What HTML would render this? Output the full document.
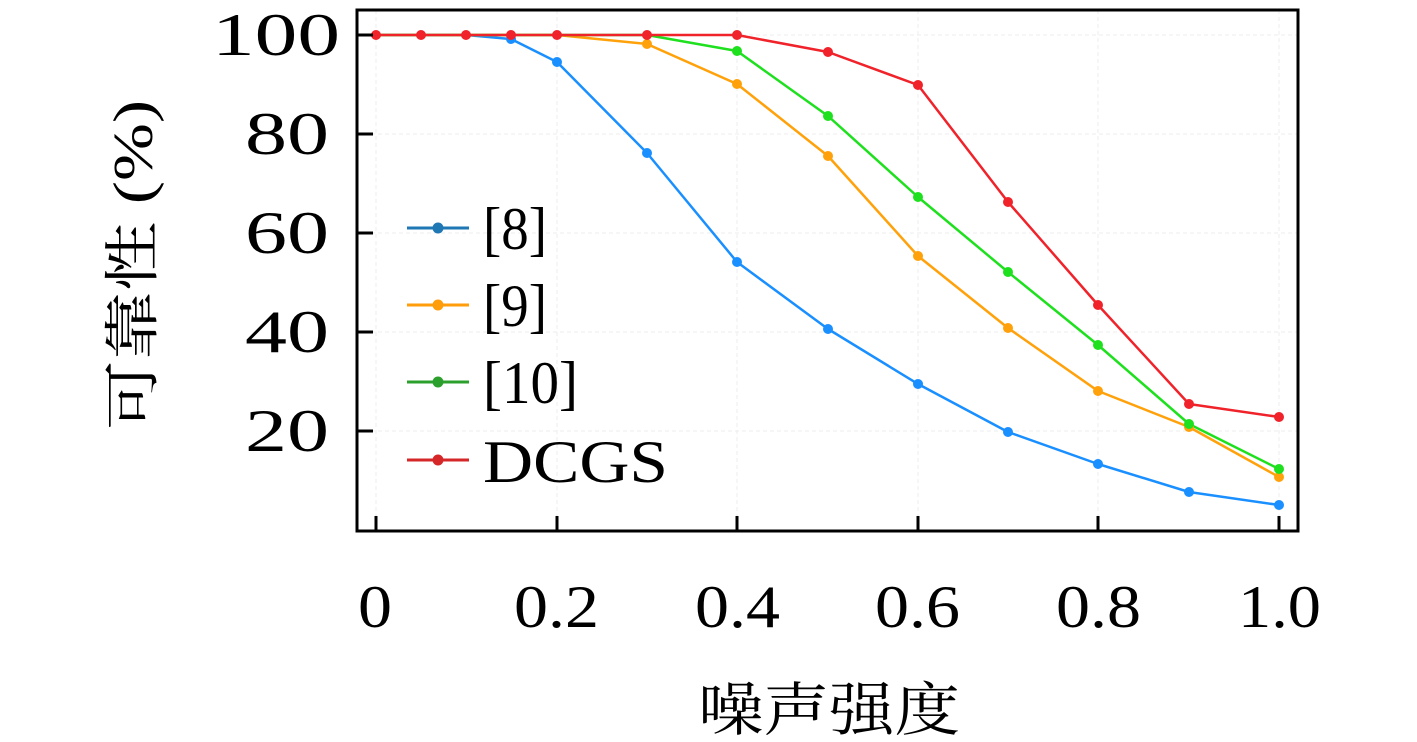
<!DOCTYPE html>
<html><head><meta charset="utf-8"><style>
html,body{margin:0;padding:0;background:#fff;}
svg{display:block;}
text{font-family:"Liberation Serif","Noto Serif CJK SC",serif;fill:#000;}
</style></head><body>
<svg width="1417" height="742" viewBox="0 0 1417 742" xmlns="http://www.w3.org/2000/svg">
<g stroke="#eee" stroke-width="1" stroke-dasharray="4,3">
<line x1="376" y1="10" x2="376" y2="531"/><line x1="557" y1="10" x2="557" y2="531"/><line x1="737" y1="10" x2="737" y2="531"/><line x1="918" y1="10" x2="918" y2="531"/><line x1="1098" y1="10" x2="1098" y2="531"/><line x1="1279" y1="10" x2="1279" y2="531"/>
<line x1="357" y1="35" x2="1298" y2="35"/><line x1="357" y1="134" x2="1298" y2="134"/><line x1="357" y1="233" x2="1298" y2="233"/><line x1="357" y1="332" x2="1298" y2="332"/><line x1="357" y1="431" x2="1298" y2="431"/>
</g>
<g fill="none" stroke-width="2.5" stroke-linejoin="round">
<polyline stroke="#1a8fff" points="376,35 421,35 466,35 511,39 557,62 647,153 737,262 828,329 918,384 1008,432 1098,464 1189,492 1279,505"/>
<polyline stroke="#ffa10a" points="376,35 421,35 466,35 511,35 557,35 647,44 737,84 828,156 918,256 1008,328 1098,391 1189,427 1279,477"/>
<polyline stroke="#1ee01e" points="376,35 421,35 466,35 511,35 557,35 647,35 737,51 828,116 918,197 1008,272 1098,345 1189,424 1279,469"/>
<polyline stroke="#f0222a" points="376,35 421,35 466,35 511,35 557,35 647,35 737,35 828,52 918,85 1008,202 1098,305 1189,404 1279,417"/>
</g>
<g fill="#1a8fff"><circle cx="511" cy="39" r="5"/><circle cx="557" cy="62" r="5"/><circle cx="647" cy="153" r="5"/><circle cx="737" cy="262" r="5"/><circle cx="828" cy="329" r="5"/><circle cx="918" cy="384" r="5"/><circle cx="1008" cy="432" r="5"/><circle cx="1098" cy="464" r="5"/><circle cx="1189" cy="492" r="5"/><circle cx="1279" cy="505" r="5"/></g>
<g fill="#ffa10a"><circle cx="647" cy="44" r="5"/><circle cx="737" cy="84" r="5"/><circle cx="828" cy="156" r="5"/><circle cx="918" cy="256" r="5"/><circle cx="1008" cy="328" r="5"/><circle cx="1098" cy="391" r="5"/><circle cx="1189" cy="427" r="5"/><circle cx="1279" cy="477" r="5"/></g>
<g fill="#1ee01e"><circle cx="737" cy="51" r="5"/><circle cx="828" cy="116" r="5"/><circle cx="918" cy="197" r="5"/><circle cx="1008" cy="272" r="5"/><circle cx="1098" cy="345" r="5"/><circle cx="1189" cy="424" r="5"/><circle cx="1279" cy="469" r="5"/></g>
<g fill="#f0222a"><circle cx="376" cy="35" r="5"/><circle cx="421" cy="35" r="5"/><circle cx="466" cy="35" r="5"/><circle cx="511" cy="35" r="5"/><circle cx="557" cy="35" r="5"/><circle cx="647" cy="35" r="5"/><circle cx="737" cy="35" r="5"/><circle cx="828" cy="52" r="5"/><circle cx="918" cy="85" r="5"/><circle cx="1008" cy="202" r="5"/><circle cx="1098" cy="305" r="5"/><circle cx="1189" cy="404" r="5"/><circle cx="1279" cy="417" r="5"/></g>
<rect x="357" y="10" width="941" height="521" fill="none" stroke="#000" stroke-width="3"/>
<g stroke="#000" stroke-width="3">
<line x1="376" y1="531" x2="376" y2="516"/><line x1="557" y1="531" x2="557" y2="516"/><line x1="737" y1="531" x2="737" y2="516"/><line x1="918" y1="531" x2="918" y2="516"/><line x1="1098" y1="531" x2="1098" y2="516"/><line x1="1279" y1="531" x2="1279" y2="516"/>
<line x1="357" y1="35" x2="373" y2="35"/><line x1="357" y1="134" x2="373" y2="134"/><line x1="357" y1="233" x2="373" y2="233"/><line x1="357" y1="332" x2="373" y2="332"/><line x1="357" y1="431" x2="373" y2="431"/>
</g>
<g font-size="60">
<text x="212" y="55" textLength="128" lengthAdjust="spacingAndGlyphs">100</text>
<text x="245" y="154" textLength="84" lengthAdjust="spacingAndGlyphs">80</text>
<text x="245" y="253" textLength="84" lengthAdjust="spacingAndGlyphs">60</text>
<text x="245" y="352" textLength="84" lengthAdjust="spacingAndGlyphs">40</text>
<text x="245" y="451" textLength="84" lengthAdjust="spacingAndGlyphs">20</text>
<text x="358" y="627" textLength="34" lengthAdjust="spacingAndGlyphs">0</text>
<text x="514" y="627" textLength="85" lengthAdjust="spacingAndGlyphs">0.2</text>
<text x="695" y="627" textLength="85" lengthAdjust="spacingAndGlyphs">0.4</text>
<text x="875" y="627" textLength="85" lengthAdjust="spacingAndGlyphs">0.6</text>
<text x="1056" y="627" textLength="85" lengthAdjust="spacingAndGlyphs">0.8</text>
<text x="1238" y="627" textLength="83" lengthAdjust="spacingAndGlyphs">1.0</text>
</g>
<text x="698" y="730" font-size="58" textLength="262" lengthAdjust="spacingAndGlyphs">噪声强度</text>
<text transform="translate(152,430) rotate(-90)" font-size="56" textLength="330" lengthAdjust="spacingAndGlyphs">可靠性 (%)</text>
<g stroke-width="3">
<line x1="407" y1="228" x2="469" y2="228" stroke="#1f77b4"/><circle cx="438" cy="228" r="5.5" fill="#1f77b4"/>
<line x1="407" y1="305" x2="469" y2="305" stroke="#ff9d0a"/><circle cx="438" cy="305" r="5.5" fill="#ff9d0a"/>
<line x1="407" y1="382" x2="469" y2="382" stroke="#2ca02c"/><circle cx="438" cy="382" r="5.5" fill="#2ca02c"/>
<line x1="407" y1="460" x2="469" y2="460" stroke="#d62728"/><circle cx="438" cy="460" r="5.5" fill="#d62728"/>
</g>
<g font-size="60">
<text x="483" y="249" textLength="64" lengthAdjust="spacingAndGlyphs">[8]</text>
<text x="483" y="326" textLength="64" lengthAdjust="spacingAndGlyphs">[9]</text>
<text x="483" y="403" textLength="95" lengthAdjust="spacingAndGlyphs">[10]</text>
<text x="483" y="482" textLength="185" lengthAdjust="spacingAndGlyphs">DCGS</text>
</g>
</svg>
</body></html>
